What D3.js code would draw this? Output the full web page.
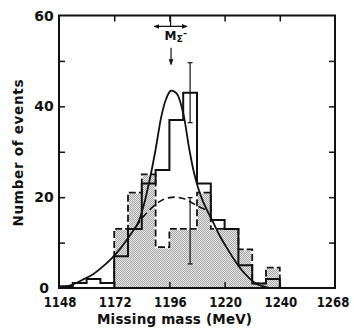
<!DOCTYPE html>
<html>
<head>
<meta charset="utf-8">
<script src="https://cdn.jsdelivr.net/npm/d3@7/dist/d3.min.js"></script>
<style>
  html, body { margin: 0; padding: 0; background: #fff; }
  svg { display: block; }
  text { font-family: "DejaVu Sans", sans-serif; fill: #111; }
</style>
</head>
<body>
<svg id="chart" width="354" height="331"></svg>
<script>
// ---------- data ----------
const xTickValues = [1148, 1172, 1196, 1220, 1244, 1268];
const xTickLabels = ["1148", "1172", "1196", "1220", "1240", "1268"];
const yTickValues = [0, 10, 20, 30, 40, 50, 60];
const yTickLabels = ["0", "", "20", "", "40", "", "60"];

const binWidth = 6;
// solid histogram (all events)
const solidBinStarts = [1148, 1154, 1160, 1166, 1172, 1178, 1184, 1190, 1196, 1202, 1208, 1214, 1220, 1226, 1232, 1238];
const solidCounts    = [0.4, 1.1, 2.0, 1.1, 7, 13, 23, 26, 37, 43, 23, 15, 13, 5, 1, 2];
// dashed, shaded histogram
const dashedBinStarts = [1172, 1178, 1184, 1190, 1196, 1202, 1208, 1214, 1220, 1226, 1232, 1238];
const dashedCounts    = [13, 21, 25, 9, 13, 13, 21, 13, 13, 8.5, 1, 4.5];

// fitted curves
const solidCurveMass  = [1149, 1151, 1155, 1159, 1163, 1167, 1171, 1175, 1179, 1182.5, 1185, 1187.5, 1190, 1192.5, 1194.5, 1196.5, 1198, 1199.5, 1202, 1204.5, 1206.5, 1208.5, 1210.5, 1212.5, 1215, 1218, 1221.5, 1224.5, 1227.5, 1230.5, 1233.5, 1236.5, 1239];
const solidCurveCount = [0.1, 0.3, 1.0, 2.0, 3.1, 4.7, 6.6, 8.9, 11.7, 14.5, 18.5, 24, 30.5, 37.8, 41.5, 43.4, 43.3, 42.6, 38.5, 31, 25.8, 22.0, 19.2, 17.0, 14.5, 11.4, 8.4, 6.0, 3.9, 2.3, 1.0, 0.4, 0.1];
const dashedCurveMass  = [1181.5, 1184, 1187, 1190, 1193, 1196, 1199, 1202, 1205, 1208, 1212];
const dashedCurveCount = [13.4, 15.3, 17, 18.4, 19.4, 19.9, 20, 19.7, 19.0, 18.1, 17.2];

// error bars
const errMass = [1205, 1205];
const errLow  = [36.4, 5.3];
const errHigh = [49.6, 19.9];

// annotation: M_Sigma-
const sigmaMass = 1196.5;
const sigmaHalfWidth = 7.2;

// ---------- layout ----------
const svg = d3.select("#chart");
const L = 59, R = 335, T = 15.5, B = 288;
const x = d3.scaleLinear().domain([1148, 1268]).range([L, R]);
const y = d3.scaleLinear().domain([0, 60]).range([B, T]);

// stipple pattern
const defs = svg.append("defs");
const pat = defs.append("pattern").attr("id", "stip").attr("width", 2).attr("height", 2)
  .attr("patternUnits", "userSpaceOnUse");
pat.append("rect").attr("width", 2).attr("height", 2).attr("fill", "#e6e6e6");
pat.append("rect").attr("x", 0).attr("y", 0).attr("width", 1).attr("height", 1).attr("fill", "#a8a8a8");
pat.append("rect").attr("x", 1).attr("y", 1).attr("width", 1).attr("height", 1).attr("fill", "#a8a8a8");

function stepPath(starts, counts) {
  let p = d3.path();
  p.moveTo(x(starts[0]), y(0));
  starts.forEach((s, i) => {
    p.lineTo(x(s), y(counts[i]));
    p.lineTo(x(s + binWidth), y(counts[i]));
  });
  p.lineTo(x(starts[starts.length - 1] + binWidth), y(0));
  return p.toString();
}

// shaded area
svg.append("path").attr("d", stepPath(dashedBinStarts, dashedCounts) + "Z")
  .attr("fill", "url(#stip)").attr("stroke", "none");

// dashed outline (white underlay then dashes)
svg.append("path").attr("d", stepPath(dashedBinStarts, dashedCounts))
  .attr("fill", "none").attr("stroke", "#fff").attr("stroke-width", 2);
svg.append("path").attr("d", stepPath(dashedBinStarts, dashedCounts))
  .attr("fill", "none").attr("stroke", "#111").attr("stroke-width", 1.8)
  .attr("stroke-dasharray", "7,3");

// solid histogram
svg.append("path").attr("d", stepPath(solidBinStarts, solidCounts))
  .attr("fill", "none").attr("stroke", "#111").attr("stroke-width", 2);

// curves
const line = d3.line().x(d => x(d[0])).y(d => y(d[1])).curve(d3.curveCatmullRom.alpha(0.5));
svg.append("path").attr("d", line(d3.zip(solidCurveMass, solidCurveCount)))
  .attr("fill", "none").attr("stroke", "#111").attr("stroke-width", 1.8);
svg.append("path").attr("d", line(d3.zip(dashedCurveMass, dashedCurveCount)))
  .attr("fill", "none").attr("stroke", "#111").attr("stroke-width", 1.6)
  .attr("stroke-dasharray", "7,4");

// error bars
errMass.forEach((m, i) => {
  const g = svg.append("g").attr("stroke", "#111").attr("stroke-width", 1.2);
  g.append("line").attr("x1", x(m)).attr("x2", x(m)).attr("y1", y(errLow[i])).attr("y2", y(errHigh[i]));
  g.append("line").attr("x1", x(m) - 2.5).attr("x2", x(m) + 2.5).attr("y1", y(errLow[i])).attr("y2", y(errLow[i]));
  g.append("line").attr("x1", x(m) - 2.5).attr("x2", x(m) + 2.5).attr("y1", y(errHigh[i])).attr("y2", y(errHigh[i]));
});

// axes frame
svg.append("rect").attr("x", L).attr("y", T).attr("width", R - L).attr("height", B - T)
  .attr("fill", "none").attr("stroke", "#111").attr("stroke-width", 2);

// inward ticks
const tickLen = 6;
const axB = d3.axisTop(x).tickValues(xTickValues.slice(1, -1)).tickSize(tickLen).tickFormat("");
const axT = d3.axisBottom(x).tickValues(xTickValues.slice(1, -1)).tickSize(tickLen).tickFormat("");
const axL = d3.axisRight(y).tickValues(yTickValues.slice(1, -1)).tickSize(tickLen).tickFormat("");
const axR = d3.axisLeft(y).tickValues(yTickValues.slice(1, -1)).tickSize(tickLen).tickFormat("");
[[axB, `translate(0,${B})`], [axT, `translate(0,${T})`], [axL, `translate(${L},0)`], [axR, `translate(${R},0)`]]
  .forEach(([ax, tr]) => {
    const g = svg.append("g").attr("transform", tr).call(ax);
    g.select(".domain").remove();
    g.selectAll("line").attr("stroke", "#111").attr("stroke-width", 1.5);
  });

// tick labels (horizontally condensed like the original lettering)
svg.append("g").selectAll("text").data(xTickValues).join("text")
  .attr("transform", d => `translate(${Math.min(x(d) + 1, 333)},307) scale(0.84,1)`)
  .attr("text-anchor", "middle").attr("font-size", 14).attr("font-weight", "bold")
  .text((d, i) => xTickLabels[i]);
svg.append("g").selectAll("text").data(yTickValues).join("text")
  .attr("x", 44).attr("y", d => y(d) + 5)
  .attr("text-anchor", "middle").attr("font-size", 14).attr("font-weight", "bold")
  .text((d, i) => yTickLabels[i]);

// axis titles
svg.append("text").attr("x", 174.5).attr("y", 323.5).attr("text-anchor", "middle")
  .attr("font-size", 13.5).attr("font-weight", "bold").attr("textLength", 155).attr("lengthAdjust", "spacing")
  .text("Missing mass (MeV)");
svg.append("text").attr("transform", "translate(23,153) rotate(-90)").attr("text-anchor", "middle")
  .attr("font-size", 13.5).attr("font-weight", "bold").attr("textLength", 147).attr("lengthAdjust", "spacing")
  .text("Number of events");

// annotation
defs.append("marker").attr("id", "ah").attr("viewBox", "0 0 10 10").attr("refX", 9).attr("refY", 5)
  .attr("markerWidth", 5).attr("markerHeight", 5).attr("orient", "auto-start-reverse")
  .append("path").attr("d", "M0,1 L10,5 L0,9 Z").attr("fill", "#111");
const ann = svg.append("g").attr("stroke", "#111").attr("stroke-width", 1.2);
ann.append("line").attr("x1", x(sigmaMass)).attr("x2", x(sigmaMass)).attr("y1", T).attr("y2", y(57.6));
ann.append("line").attr("x1", x(sigmaMass - sigmaHalfWidth)).attr("x2", x(sigmaMass + sigmaHalfWidth))
  .attr("y1", y(57.6)).attr("y2", y(57.6))
  .attr("marker-start", "url(#ah)").attr("marker-end", "url(#ah)");
ann.append("line").attr("x1", x(sigmaMass) + 0.5).attr("x2", x(sigmaMass) + 0.5)
  .attr("y1", y(52.9)).attr("y2", y(49.2)).attr("marker-end", "url(#ah)");
const lab = svg.append("text").attr("x", x(sigmaMass) - 6).attr("y", 40).attr("font-size", 12).attr("font-weight", "bold");
lab.append("tspan").text("M");
lab.append("tspan").attr("font-size", 9.5).attr("dy", 2).text("Σ");
lab.append("tspan").attr("font-size", 9.5).attr("dy", -6).text("-");
</script>
</body>
</html>
